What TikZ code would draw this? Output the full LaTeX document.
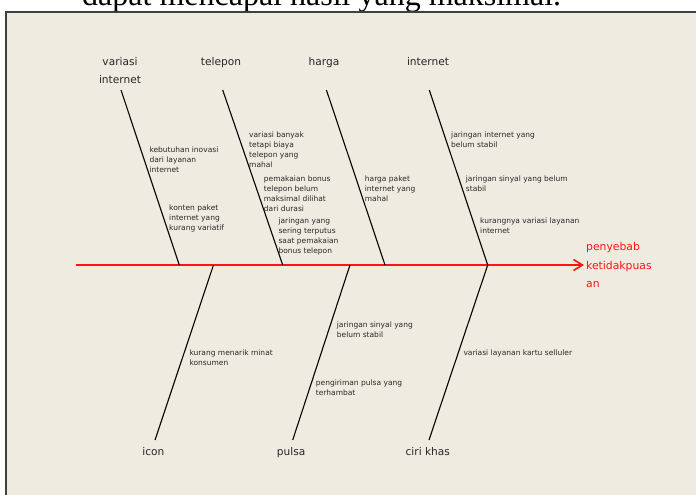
\documentclass[tikz,border=0pt]{standalone}
\usepackage{fontspec}
\setmainfont{DejaVu Sans}
\newfontfamily\titlefont{Liberation Serif}
\usetikzlibrary{arrows.meta}
\definecolor{bgbeige}{RGB}{239,235,225}
\definecolor{framegray}{RGB}{64,64,64}
\definecolor{txtgray}{RGB}{40,40,40}
\definecolor{spinered}{RGB}{255,20,20}
\newcommand{\mlines}[1]{\begin{tabular}[t]{@{}l@{}}#1\end{tabular}}
\newcommand{\clines}[1]{\begin{tabular}[t]{@{}c@{}}#1\end{tabular}}
\begin{document}
\begin{tikzpicture}[x=1pt,y=-1pt,
  cause/.style={font=\fontsize{7.5}{10}\selectfont, text=txtgray, anchor=base west, inner sep=0pt},
  cat/.style={font=\fontsize{10.6}{18}\selectfont, text=black!85, anchor=base, inner sep=0pt},
  effectlab/.style={font=\fontsize{10.8}{18.3}\selectfont, text=spinered, anchor=base west, inner sep=0pt},
  bone/.style={draw=black, line width=1.1pt},
  spine/.style={draw=spinered, line width=1.6pt, -{Straight Barb[length=9pt,width=11pt,line width=1.6pt]}},
  titletext/.style={font=\titlefont\fontsize{32}{32}\selectfont, anchor=base west, inner sep=0pt}]
\useasboundingbox (0,0) rectangle (696,495);
\clip (0,0) rectangle (696,495);
% title (cut off)
\node[titletext] (title) at (82,5.5) {dapat mencapai hasil yang maksimal.};
% frame
\fill[bgbeige] (6,12) rectangle (705,505);
\draw[framegray, line width=1.5pt] (6,505) -- (6,12) -- (705,12);
% spine
\coordinate (spL) at (76,265);
\coordinate (spR) at (584,265);
\draw[spine] (spL) -- (spR);
\node[effectlab] (effect) at (586,250.7) {\mlines{penyebab\\ketidakpuas\\an}};
% top bones
\coordinate (t1) at (121,90);   \coordinate (s1) at (179.3,265);
\coordinate (t2) at (222.7,90); \coordinate (s2) at (282.7,265);
\coordinate (t3) at (326.4,90); \coordinate (s3) at (385,265);
\coordinate (t4) at (429.3,90); \coordinate (s4) at (487.7,265);
\draw[bone] (t1) -- (s1);
\draw[bone] (t2) -- (s2);
\draw[bone] (t3) -- (s3);
\draw[bone] (t4) -- (s4);
\node[cat] (c1) at (120,65.5) {\clines{variasi\\internet}};
\node[cat] (c2) at (221,65.5) {telepon};
\node[cat] (c3) at (324,65.5) {harga};
\node[cat] (c4) at (428,65.5) {internet};
% bottom bones
\coordinate (b1) at (213.5,265); \coordinate (e1) at (155,440);
\coordinate (b2) at (350,265);   \coordinate (e2) at (292.7,440);
\coordinate (b3) at (487.7,265); \coordinate (e3) at (429,440);
\draw[bone] (b1) -- (e1);
\draw[bone] (b2) -- (e2);
\draw[bone] (b3) -- (e3);
\node[cat] (c5) at (153.3,455.5) {icon};
\node[cat] (c6) at (291.2,455.5) {pulsa};
\node[cat] (c7) at (427.8,455.5) {ciri khas};
% causes
\node[cause] (k1) at (149.3,152) {\mlines{kebutuhan inovasi\\dari layanan\\internet}};
\node[cause] (k2) at (169,210.3) {\mlines{konten paket\\internet yang\\kurang variatif}};
\node[cause] (k3) at (249,137.7) {\mlines{variasi banyak\\tetapi biaya\\telepon yang\\mahal}};
\node[cause] (k4) at (263.7,181) {\mlines{pemakaian bonus\\telepon belum\\maksimal dilihat\\dari durasi}};
\node[cause] (k5) at (278.3,223.5) {\mlines{jaringan yang\\sering terputus\\saat pemakaian\\bonus telepon}};
\node[cause] (k6) at (364.7,181) {\mlines{harga paket\\internet yang\\mahal}};
\node[cause] (k7) at (451,137.7) {\mlines{jaringan internet yang\\belum stabil}};
\node[cause] (k8) at (465.7,181) {\mlines{jaringan sinyal yang belum\\stabil}};
\node[cause] (k9) at (480,223.5) {\mlines{kurangnya variasi layanan\\internet}};
\node[cause] (k10) at (189.3,355.7) {\mlines{kurang menarik minat\\konsumen}};
\node[cause] (k11) at (336.7,327) {\mlines{jaringan sinyal yang\\belum stabil}};
\node[cause] (k12) at (315.7,385) {\mlines{pengiriman pulsa yang\\terhambat}};
\node[cause] (k13) at (463.3,355.7) {variasi layanan kartu selluler};
\end{tikzpicture}
\end{document}
